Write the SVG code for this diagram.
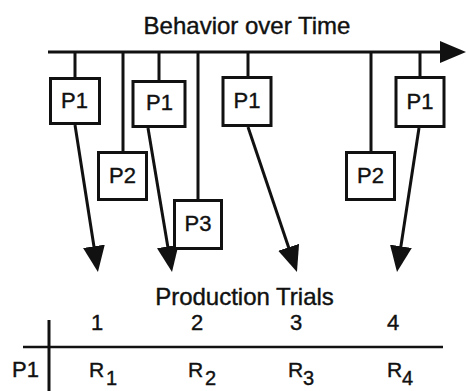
<svg xmlns="http://www.w3.org/2000/svg" width="466" height="391" viewBox="0 0 466 391">
<style>
  .bg { fill: #ffffff; }
  .box { fill: #ffffff; stroke: #111111; stroke-width: 3; }
  .ln { stroke: #111111; stroke-width: 3; fill: none; }
  .txt { font-family: "Liberation Sans", Arial, Helvetica, sans-serif; fill: #111111; stroke: #111111; stroke-width: 0.4; }
  .lbl { font-size: 22px; text-anchor: middle; }
  .head { font-size: 24px; text-anchor: middle; }
  .sub { font-size: 20px; }
</style>
<defs>
  <marker id="ah" viewBox="0 0 26 22" markerWidth="26" markerHeight="22" refX="18" refY="11" orient="auto" markerUnits="userSpaceOnUse">
    <path d="M0,0 L26,11 L0,22 z" fill="#111111"/>
  </marker>
</defs>
<rect class="bg" x="0" y="0" width="466" height="391"/>
<text class="txt head" x="247" y="34">Behavior over Time</text>

<g id="connectors">
  <line class="ln" x1="48" y1="52" x2="458" y2="52" marker-end="url(#ah)"/>
  <line class="ln" x1="75" y1="52" x2="75" y2="78"/>
  <line class="ln" x1="159" y1="52" x2="159" y2="81"/>
  <line class="ln" x1="248" y1="52" x2="248" y2="77"/>
  <line class="ln" x1="420" y1="52" x2="420" y2="78"/>
  <line class="ln" x1="123" y1="52" x2="123" y2="152"/>
  <line class="ln" x1="198" y1="52" x2="198" y2="200"/>
  <line class="ln" x1="371" y1="52" x2="371" y2="152"/>
  <line class="ln" x1="75" y1="125" x2="96.7" y2="264.1" marker-end="url(#ah)"/>
  <line class="ln" x1="148" y1="128" x2="170.7" y2="264.1" marker-end="url(#ah)"/>
  <line class="ln" x1="248" y1="127" x2="294.4" y2="264.4" marker-end="url(#ah)"/>
  <line class="ln" x1="419" y1="128" x2="398.2" y2="264.1" marker-end="url(#ah)"/>
</g>

<g id="p1-a"><rect class="box" x="50.5" y="78.5" width="49" height="45"/><text class="txt lbl" x="74.5" y="107.5">P1</text></g>
<g id="p1-b"><rect class="box" x="133" y="81.5" width="52" height="45"/><text class="txt lbl" x="159.5" y="110">P1</text></g>
<g id="p1-c"><rect class="box" x="223" y="77.5" width="48" height="48"/><text class="txt lbl" x="247" y="108">P1</text></g>
<g id="p1-d"><rect class="box" x="396" y="77.5" width="48" height="49"/><text class="txt lbl" x="420" y="108.5">P1</text></g>
<g id="p2-a"><rect class="box" x="98.5" y="152.5" width="48" height="47"/><text class="txt lbl" x="122.5" y="182.5">P2</text></g>
<g id="p3"><rect class="box" x="174.5" y="200.5" width="47" height="48"/><text class="txt lbl" x="198" y="231">P3</text></g>
<g id="p2-b"><rect class="box" x="346.5" y="152.5" width="48" height="47"/><text class="txt lbl" x="370.5" y="182.5">P2</text></g>

<g id="table">
  <text class="txt head" x="244.5" y="305">Production Trials</text>
  <text class="txt lbl" x="97" y="330">1</text>
  <text class="txt lbl" x="197" y="330">2</text>
  <text class="txt lbl" x="296" y="330">3</text>
  <text class="txt lbl" x="393" y="330">4</text>
  <line class="ln" x1="23" y1="347" x2="443" y2="347" style="stroke-width:2.5"/>
  <line class="ln" x1="49" y1="320" x2="49" y2="391"/>
  <text class="txt" x="12" y="377" font-size="22">P1</text>
  <text class="txt" font-size="21"><tspan x="89" y="377">R</tspan><tspan class="sub" x="106" y="385">1</tspan></text>
  <text class="txt" font-size="21"><tspan x="188" y="377">R</tspan><tspan class="sub" x="205" y="385">2</tspan></text>
  <text class="txt" font-size="21"><tspan x="288" y="377">R</tspan><tspan class="sub" x="303" y="385">3</tspan></text>
  <text class="txt" font-size="21"><tspan x="387" y="377">R</tspan><tspan class="sub" x="402" y="385">4</tspan></text>
</g>
</svg>
